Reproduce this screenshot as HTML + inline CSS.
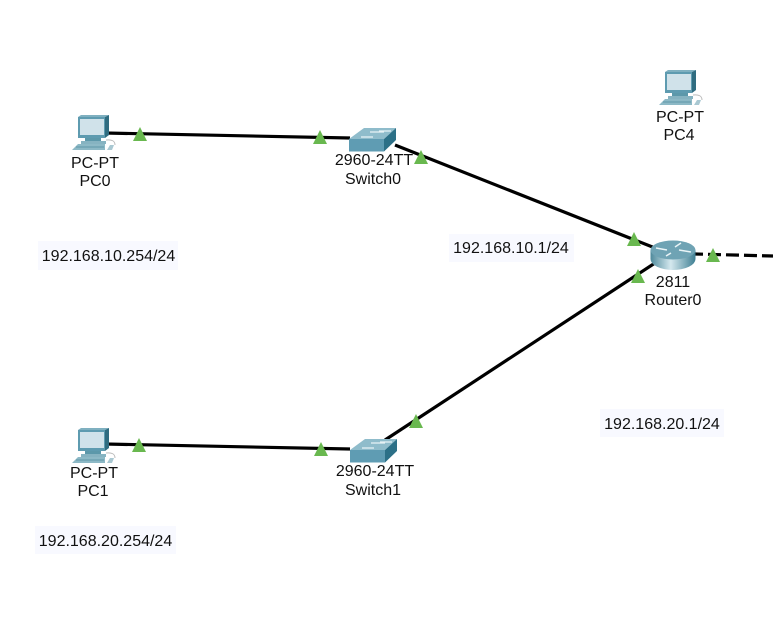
<!DOCTYPE html>
<html><head><meta charset="utf-8"><style>
html,body{margin:0;padding:0;background:#fff}
svg{display:block}
text{font-family:"Liberation Sans",sans-serif;font-size:16px;fill:#111;text-anchor:middle}
</style></head><body>
<svg width="773" height="638" viewBox="0 0 773 638" xmlns="http://www.w3.org/2000/svg">
<defs>
<linearGradient id="r" x1="0" x2="1" y1="0" y2="0"><stop offset="0" stop-color="#4f8a9c"/><stop offset=".45" stop-color="#d4e8ee"/><stop offset="1" stop-color="#3f7f93"/></linearGradient>
<g id="pc">
<path d="M-15,-15 L-12,-17 H16 L12,-15 Z" fill="#7fb0c0"/>
<rect x="-15" y="-15" width="27" height="21" fill="#5e9bb0"/>
<path d="M12,-15 L16,-17 V3 L12,6 Z" fill="#2f6c80"/>
<rect x="-13" y="-13" width="24" height="16" fill="#d0e2ea"/>
<rect x="-8" y="6" width="16" height="3" fill="#5c98aa"/>
<rect x="-12" y="9" width="25" height="3" fill="#86b3c1"/>
<path d="M-21,18 L-15,12 H12 V18 Z" fill="#8db9c6"/>
<path d="M-17,15 H11" stroke="#5f97a8" stroke-width="1"/>
<path d="M14,18 L17,13 H21 L19,18 Z" fill="#a9c8d2"/>
<path d="M13,8 Q22,7 22,13" fill="none" stroke="#bbb" stroke-width="1"/>
</g>
<g id="sw">
<path d="M-24,0 L-9,-11 H23 L11,0 Z" fill="#8fbccb"/>
<path d="M-24,0 H11 V12.500 H-24 Z" fill="#5f9cb3"/>
<path d="M11,0 L23,-11 V1 L11,12.500 Z" fill="#2c7087"/>
<path d="M-12,-2 H0 M-3,-7 H11 M6,-8 H18" stroke="#e8f2f5" stroke-width="1.200"/>
</g>
<path id="t" d="M0,-14 L7,0 H-7 Z" fill="#69b84f"/>
</defs>
<rect width="773" height="638" fill="#fff"/>
<g stroke="#000" stroke-width="3.200" fill="none">
<line x1="105" y1="133" x2="350" y2="138"/>
<line x1="105" y1="444" x2="350" y2="449"/>
<line x1="395" y1="145" x2="655" y2="248"/>
<line x1="385" y1="440" x2="655" y2="263"/>
<line x1="695" y1="254" x2="773" y2="256" stroke-dasharray="13 5" stroke-dashoffset="5"/>
</g>
<use href="#pc" x="93" y="132"/>
<use href="#pc" x="93" y="445"/>
<use href="#pc" x="680" y="87"/>
<use href="#sw" x="373" y="139"/>
<use href="#sw" x="374" y="450"/>
<ellipse cx="673" cy="259" rx="22.500" ry="11" fill="url(#r)"/>
<rect x="650.500" y="250" width="45" height="9" fill="url(#r)"/>
<ellipse cx="673" cy="250" rx="22.500" ry="9.500" fill="#6fa3b4"/>
<path d="M656,248 L667,250 M679,250 L691,252 M675,247 L681,243 M666,256 L671,253" stroke="#eaf4f7" stroke-width="1.500"/>
<use href="#t" x="140" y="141"/>
<use href="#t" x="320" y="144"/>
<use href="#t" x="421" y="164"/>
<use href="#t" x="634" y="246"/>
<use href="#t" x="638" y="283"/>
<use href="#t" x="713" y="262"/>
<use href="#t" x="139" y="452"/>
<use href="#t" x="321" y="456"/>
<use href="#t" x="416" y="428"/>
<rect x="38" y="241" width="140" height="29" fill="#f8f9ff"/>
<rect x="449" y="234" width="125" height="28" fill="#f8f9ff"/>
<rect x="600" y="409" width="124" height="28" fill="#f8f9ff"/>
<rect x="35" y="526" width="141" height="28" fill="#f8f9ff"/>
<text x="95" y="168">PC-PT</text>
<text x="95" y="186">PC0</text>
<text x="94" y="478">PC-PT</text>
<text x="93" y="496">PC1</text>
<text x="680" y="122">PC-PT</text>
<text x="679" y="140">PC4</text>
<text x="374" y="165">2960-24TT</text>
<text x="373" y="184">Switch0</text>
<text x="375" y="476">2960-24TT</text>
<text x="373" y="495">Switch1</text>
<text x="673" y="287">2811</text>
<text x="673" y="305">Router0</text>
<text x="108.500" y="261">192.168.10.254/24</text>
<text x="511" y="253">192.168.10.1/24</text>
<text x="662" y="429">192.168.20.1/24</text>
<text x="105.500" y="546">192.168.20.254/24</text>
</svg>
</body></html>
